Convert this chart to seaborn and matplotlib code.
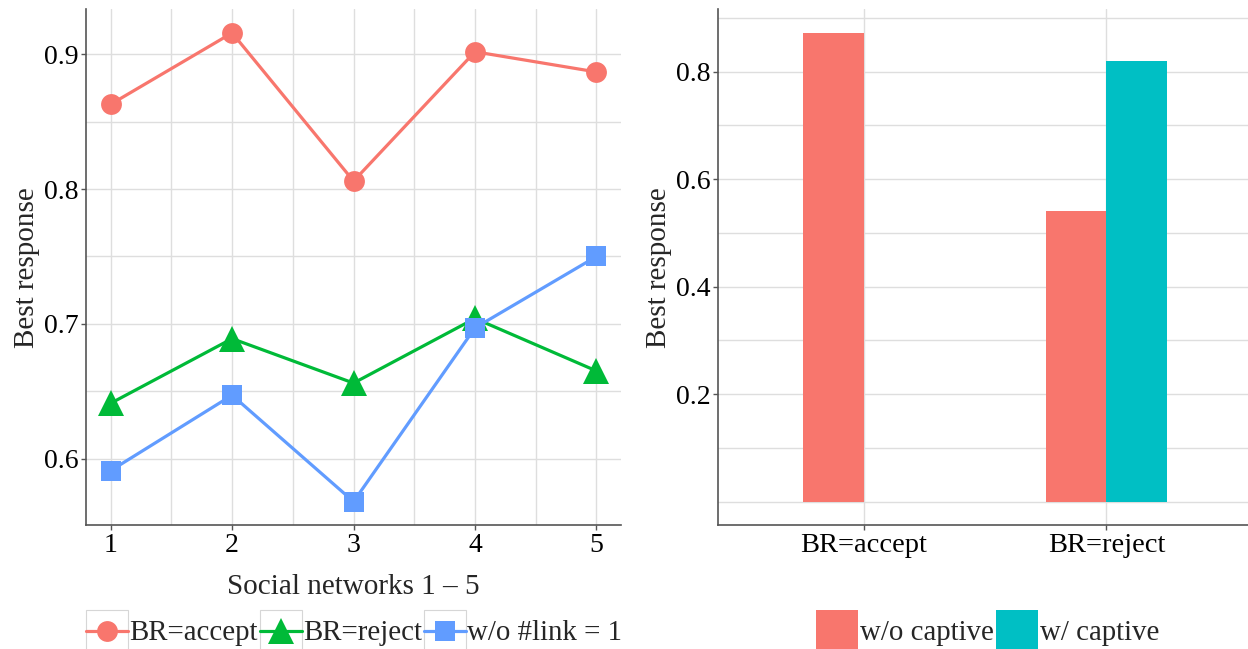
import numpy as np
import pandas as pd
import matplotlib
matplotlib.use("Agg")
import matplotlib.pyplot as plt
import seaborn as sns
from matplotlib.patches import Rectangle
from matplotlib.offsetbox import DrawingArea
from matplotlib.ticker import MultipleLocator
from matplotlib.legend_handler import HandlerLine2D

# ---------------- data ----------------
networks = [1, 2, 3, 4, 5]
br_accept = [0.863, 0.916, 0.806, 0.902, 0.887]
br_reject = [0.641, 0.689, 0.656, 0.704, 0.665]
wo_link1 = [0.591, 0.647, 0.568, 0.697, 0.750]
line_series = ["BR=accept", "BR=reject", "w/o #link = 1"]

bar_categories = ["BR=accept", "BR=reject", "BR=reject"]
bar_conditions = ["w/o captive", "w/o captive", "w/ captive"]
bar_values = [0.872, 0.541, 0.820]
bar_hue_order = ["w/o captive", "w/ captive"]

line_colors = ["#F8766D", "#00BA38", "#619CFF"]
bar_colors = ["#F8766D", "#00BFC4"]
marker_sizes = [15, 18.5, 15]

# ---------------- style ----------------
sns.set_theme(style="white")
plt.rcParams["font.family"] = ["Liberation Serif", "DejaVu Serif"]

df_line = pd.DataFrame({
    "x": networks * 3,
    "y": br_accept + br_reject + wo_link1,
    "series": [s for s in line_series for _ in networks],
})
df_bar = pd.DataFrame({"cat": bar_categories, "cond": bar_conditions, "val": bar_values})

fig = plt.figure(figsize=(12.48, 6.49), dpi=100)
ax1 = fig.add_axes([0.0692, 0.191, 0.4282, 0.7944])
ax2 = fig.add_axes([0.5753, 0.191, 0.4279, 0.7944])

grid_c = "#dedede"
spine_c = "#555555"

# ---------------- left: line plot ----------------
sns.lineplot(data=df_line, x="x", y="y", hue="series", style="series",
             hue_order=line_series, style_order=line_series,
             palette=line_colors, markers=["o", "^", "s"], dashes=False,
             markersize=15, markeredgewidth=0, linewidth=2.3, ax=ax1, legend=True,
             zorder=3)
for ln, ms in zip(ax1.lines[:3], marker_sizes):
    ln.set_markersize(ms)
ax1.set_xlim(0.8, 5.2)
ax1.set_ylim(0.5506, 0.9334)
ax1.set_xticks(networks)
ax1.xaxis.set_minor_locator(MultipleLocator(0.5))
ax1.yaxis.set_major_locator(MultipleLocator(0.1))
ax1.yaxis.set_minor_locator(MultipleLocator(0.05))
ax1.set_xlabel("Social networks 1 \u2013 5", fontsize=21, labelpad=12)
ax1.set_ylabel("Best response", fontsize=21, labelpad=3)
h1, l1 = ax1.get_legend_handles_labels()
ax1.get_legend().remove()

# ---------------- right: bar plot ----------------
sns.barplot(data=df_bar, x="cat", y="val", hue="cond", hue_order=bar_hue_order,
            order=["BR=accept", "BR=reject"], palette=bar_colors, width=0.5,
            saturation=1, ax=ax2, legend=True, zorder=3)
ax2.set_xlim(-0.6, 1.6)
ax2.set_ylim(-0.0436, 0.9156)
ax2.set_yticks([0.2, 0.4, 0.6, 0.8])
ax2.set_yticks(np.arange(0.0, 0.95, 0.1), minor=True)
ax2.set_xlabel("")
ax2.set_ylabel("Best response", fontsize=21, labelpad=3)
h2, l2 = ax2.get_legend_handles_labels()
ax2.get_legend().remove()
for p in ax2.patches:
    p.set_linewidth(0)

for ax in (ax1, ax2):
    ax.set_axisbelow(True)
    ax.grid(True, which="major", color=grid_c, lw=1.0)
    ax.grid(True, which="minor", color=grid_c, lw=1.0)
    for s in ("top", "right"):
        ax.spines[s].set_visible(False)
    for s in ("left", "bottom"):
        ax.spines[s].set_color(spine_c)
        ax.spines[s].set_linewidth(1.2)
    ax.tick_params(axis="both", which="major", labelsize=20, length=3.5,
                   width=1.0, color=spine_c, labelcolor="black", pad=2,
                   bottom=True, left=True)
    ax.tick_params(axis="both", which="minor", length=0)
ax2.tick_params(axis="x", labelsize=20.5)


# ---------------- legends ----------------
class CenteredLine(HandlerLine2D):
    """Line+marker key centred vertically in its key box."""
    def create_artists(self, legend, orig_handle, xdescent, ydescent,
                       width, height, fontsize, trans):
        arts = super().create_artists(legend, orig_handle, xdescent, ydescent,
                                      width, height, fontsize, trans)
        shift = height / 2.0 - ydescent - (height - ydescent) / 2.0
        for a in arts:
            a.set_ydata(np.asarray(a.get_ydata(), dtype=float) + shift)
        return arts


for h, ms in zip(h1, marker_sizes):
    h.set_markersize(ms)
    h.set_linewidth(2.3)
leg1 = fig.legend(h1, l1, loc="center", bbox_to_anchor=(0.2838, 0.0285),
                  ncol=3, frameon=False, fontsize=20.8, handlelength=1.44,
                  handleheight=1.8, handletextpad=0.04, columnspacing=0.08,
                  borderaxespad=0, borderpad=0,
                  handler_map={h: CenteredLine() for h in h1})
leg2 = fig.legend(h2, l2, loc="center", bbox_to_anchor=(0.7915, 0.0285),
                  ncol=2, frameon=False, fontsize=20.8, handlelength=1.46,
                  handleheight=1.8, handletextpad=0.07, columnspacing=0.05,
                  borderaxespad=0, borderpad=0)

fig.canvas.draw()
r = fig.canvas.get_renderer()
inv = fig.transFigure.inverted()
for da in leg1.findobj(DrawingArea):
    bb = da.get_window_extent(r)
    (x0, y0), (x1, y1) = inv.transform([[bb.x0, bb.y0], [bb.x1, bb.y1]])
    fig.add_artist(Rectangle((x0, y0), x1 - x0, y1 - y0, transform=fig.transFigure,
                             fill=False, edgecolor="#d6d6d6", lw=0.8, zorder=0))

fig.savefig("out.png", dpi=100)
